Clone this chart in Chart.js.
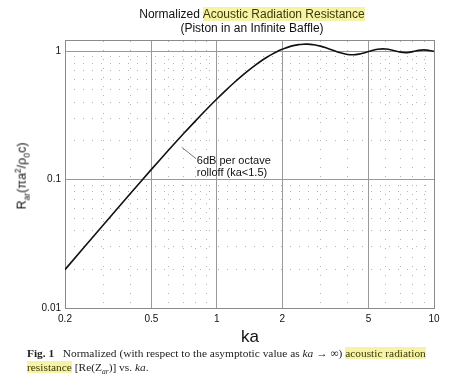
<!DOCTYPE html>
<html>
<head>
<meta charset="utf-8">
<script src="https://cdn.jsdelivr.net/npm/chart.js@4"></script>
<style>
  html, body { margin: 0; padding: 0; background: #fff; }
  #wrap { position: relative; width: 466px; height: 378px; overflow: hidden; }
  #wrap canvas { position: absolute; left: 0; top: 0; }
  .txt { position: absolute; color: #111; font-family: "Liberation Sans", Arial, sans-serif; white-space: nowrap; }
  .hl { background: #f7f3a6; color: #3b3a08; }
  #title { left: 0; width: 504px; top: 7px; text-align: center; font-size: 12px; line-height: 14px; }
  #ylab { left: 22px; top: 176px; font-size: 12.5px; transform: translate(-50%, -50%) rotate(-90deg); }
  #ylab sub { font-size: 8.5px; }
  #ylab sup { font-size: 8.5px; }
  #xlab { left: 250px; top: 337px; font-size: 17px; transform: translate(-50%, -50%); }
  #caption { left: 27px; top: 346px; font-family: "Liberation Serif", "Times New Roman", serif; font-size: 11.4px; line-height: 14px; color: #222; }
  #caption sub { font-size: 7.5px; }
</style>
</head>
<body>
<div id="wrap">
  <canvas id="c" width="466" height="378"></canvas>
  <div id="title" class="txt">Normalized <span class="hl">Acoustic Radiation Resistance</span><br>(Piston in an Infinite Baffle)</div>
  <div id="ylab" class="txt">R<sub>ar</sub>(&pi;a<sup>2</sup>/&rho;<sub>0</sub>c)</div>
  <div id="xlab" class="txt">ka</div>
  <div id="caption" class="txt"><b>Fig. 1</b>&nbsp;&nbsp; Normalized (with respect to the asymptotic value as <i>ka</i> &rarr; &infin;) <span class="hl">acoustic radiation</span><br><span class="hl">resistance</span> [Re(Z<sub><i>ar</i></sub>)] vs. <i>ka</i>.</div>
</div>
<script>
// ka samples and normalized resistance
const KA = [0.2, 0.3, 0.4, 0.5, 0.6, 0.7, 0.8, 0.9, 1.0, 1.1, 1.2, 1.3, 1.4, 1.5, 1.6, 1.7, 1.8, 1.9,
  2.0, 2.2, 2.4, 2.5, 2.6, 2.7, 2.8, 3.0, 3.2, 3.4, 3.5, 3.6, 3.75, 4.0, 4.25, 4.5, 4.75,
  5.0, 5.5, 6.0, 6.5, 7.0, 7.5, 8.0, 8.5, 9.0, 9.5, 10];
const RESISTANCE = [0.0199, 0.0443, 0.0779, 0.1199, 0.1695, 0.2258, 0.2876, 0.3539, 0.4233, 0.4945,
  0.5665, 0.6378, 0.7074, 0.7740, 0.8367, 0.8946, 0.9470, 0.9933, 1.0330, 1.0922, 1.1244, 1.1310,
  1.1320, 1.1279, 1.1193, 1.0922, 1.057, 1.020, 1.0013, 0.985, 0.964, 0.941, 0.936, 0.946, 0.966,
  0.991, 1.032, 1.037, 1.011, 0.981, 0.973, 0.989, 1.012, 1.021, 1.011, 0.993];

const X_TICKS = [0.2, 0.5, 1, 2, 5, 10];
const X_TICK_LABELS = ['0.2', '0.5', '1', '2', '5', '10'];
const X_MINOR = [0.3, 0.4, 0.6, 0.7, 0.8, 0.9, 3, 4, 6, 7, 8, 9];
const Y_TICKS = [0.01, 0.1, 1];
const Y_TICK_LABELS = ['0.01', '0.1', '1'];
const Y_MINOR = [0.02, 0.03, 0.04, 0.05, 0.06, 0.07, 0.08, 0.09, 0.2, 0.3, 0.4, 0.5, 0.6, 0.7, 0.8, 0.9];

// annotation: leader line start/end and text anchor (data coords)
const NOTE_LINE = [[0.69, 0.178], [0.80, 0.146]];
const NOTE_AT = [0.80, 0.131];
const NOTE_TEXT = ['6dB per octave', 'rolloff (ka<1.5)'];

const setTicks = (vals) => (scale) => { scale.ticks = vals.map((v) => ({ value: v })); };

const notePlugin = {
  id: 'note',
  afterDatasetsDraw: (chart) => {
    const { ctx } = chart;
    const x = chart.scales.x, y = chart.scales.y;
    ctx.save();
    ctx.strokeStyle = '#777';
    ctx.lineWidth = 1;
    ctx.beginPath();
    ctx.moveTo(x.getPixelForValue(NOTE_LINE[0][0]), y.getPixelForValue(NOTE_LINE[0][1]));
    ctx.lineTo(x.getPixelForValue(NOTE_LINE[1][0]), y.getPixelForValue(NOTE_LINE[1][1]));
    ctx.stroke();
    ctx.fillStyle = '#111';
    ctx.font = '11px "Liberation Sans", Arial, sans-serif';
    ctx.textBaseline = 'alphabetic';
    const tx = x.getPixelForValue(NOTE_AT[0]) + 1;
    const ty = y.getPixelForValue(NOTE_AT[1]);
    NOTE_TEXT.forEach((t, i) => ctx.fillText(t, tx, ty + i * 12));
    ctx.restore();
  },
};

const tickFont = { family: '"Liberation Sans", Arial, sans-serif', size: 10 };
const minorGrid = { color: 'rgba(0,0,0,0.3)', lineWidth: 1, drawTicks: false };

new Chart(document.getElementById('c'), {
  type: 'line',
  data: {
    datasets: [{
      data: KA.map((k, i) => ({ x: k, y: RESISTANCE[i] })),
      borderColor: '#111',
      borderWidth: 1.6,
      pointRadius: 0,
      tension: 0.35,
      fill: false,
    }],
  },
  plugins: [notePlugin],
  options: {
    responsive: false,
    animation: false,
    layout: { padding: { top: 40, right: 32, left: 0, bottom: 0 } },
    plugins: { legend: { display: false }, tooltip: { enabled: false }, title: { display: false } },
    scales: {
      x: {
        type: 'logarithmic', position: 'bottom', min: 0.2, max: 10,
        afterBuildTicks: setTicks(X_TICKS),
        afterFit: (s) => { s.height = 70; },
        grid: { color: '#9a9a9a', lineWidth: 1, drawTicks: false },
        border: { color: '#8a8a8a' },
        ticks: { color: '#111', font: tickFont, padding: 5, autoSkip: false, maxRotation: 0,
          callback: (v, i) => X_TICK_LABELS[i] },
      },
      x2: {
        type: 'logarithmic', position: 'top', min: 0.2, max: 10,
        afterBuildTicks: setTicks(X_MINOR),
        afterFit: (s) => { s.height = 0; },
        grid: minorGrid,
        border: { color: '#8a8a8a', dash: [1, 8] },
        ticks: { display: false },
      },
      y: {
        type: 'logarithmic', position: 'left', min: 0.01, max: 1.219,
        afterBuildTicks: setTicks(Y_TICKS),
        afterFit: (s) => { s.width = 65; },
        grid: { color: '#9a9a9a', lineWidth: 1, drawTicks: false },
        border: { color: '#8a8a8a' },
        ticks: { color: '#111', font: tickFont, padding: 4, autoSkip: false,
          callback: (v, i) => Y_TICK_LABELS[i] },
      },
      y2: {
        type: 'logarithmic', position: 'right', min: 0.01, max: 1.219,
        afterBuildTicks: setTicks(Y_MINOR),
        afterFit: (s) => { s.width = 0; },
        grid: minorGrid,
        border: { color: '#8a8a8a', dash: [1, 8] },
        ticks: { display: false },
      },
    },
  },
});
</script>
</body>
</html>
